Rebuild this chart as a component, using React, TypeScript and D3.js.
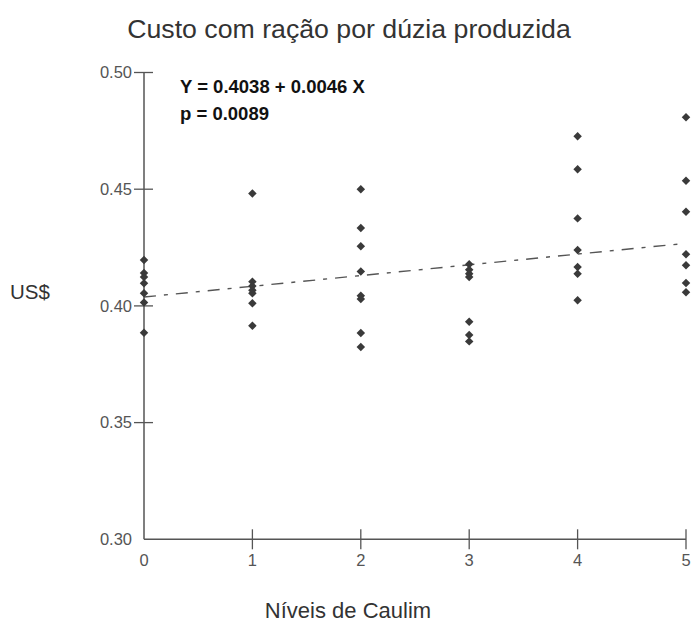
import React from "react";
import * as d3 from "d3";

const title = "Custo com ração por dúzia produzida";
const xLabel = "Níveis de Caulim";
const yLabel = "US$";
const xTicks = [0, 1, 2, 3, 4, 5];
const yTicks = [0.3, 0.35, 0.4, 0.45, 0.5];
const equation = "Y = 0.4038 + 0.0046 X";
const pText = "p = 0.0089";
const intercept = 0.4038;
const slope = 0.0046;

const level0 = [0.4197, 0.4141, 0.4124, 0.4097, 0.4054, 0.4015, 0.3885];
const level1 = [0.4482, 0.4104, 0.4085, 0.4067, 0.4054, 0.4011, 0.3915];
const level2 = [0.45, 0.4334, 0.4256, 0.4147, 0.4043, 0.403, 0.3884, 0.3824];
const level3 = [0.4178, 0.4155, 0.4138, 0.4124, 0.3932, 0.3875, 0.3848];
const level4 = [0.4727, 0.4585, 0.4375, 0.4239, 0.4167, 0.4138, 0.4024];
const level5 = [0.4808, 0.4536, 0.4403, 0.4221, 0.4174, 0.4098, 0.4059];
const levels = [level0, level1, level2, level3, level4, level5];

export default function App() {
  const W = 692;
  const H = 623;
  const x = d3.scaleLinear().domain([0, 5]).range([144, 686]);
  const y = d3.scaleLinear().domain([0.3, 0.5]).range([539.3, 72.5]);
  const sym = d3.symbol().type(d3.symbolDiamond2).size(46);
  const axisColor = "#555";
  const font = "'Liberation Sans', Arial, sans-serif";
  const lineX0 = 0;
  const lineX1 = 4.93;
  const points: { lv: number; v: number }[] = [];
  levels.forEach((arr, i) => arr.forEach((v) => points.push({ lv: xTicks[i], v })));

  return (
    <svg
      width={W}
      height={H}
      style={{ position: "absolute", left: 0, top: 0, background: "#fff" }}
      fontFamily={font}
    >
      <rect width={W} height={H} fill="#fff" />
      <text x={349} y={38} textAnchor="middle" fontSize={26.7} fill="#333">
        {title}
      </text>
      <line x1={x(0)} x2={x(0)} y1={y(0.3)} y2={y(0.5)} stroke={axisColor} strokeWidth={1.5} />
      <line x1={x(0)} x2={x(5)} y1={y(0.3)} y2={y(0.3)} stroke={axisColor} strokeWidth={1.5} />
      {yTicks.map((t) => (
        <g key={"y" + t}>
          {t !== 0.3 && (
            <line x1={x(0) - 10} x2={x(0) + 9} y1={y(t)} y2={y(t)} stroke={axisColor} strokeWidth={1.3} />
          )}
          <text x={x(0) - 12} y={y(t)} dy="0.35em" textAnchor="end" fontSize={16.5} fill="#555">
            {d3.format(".2f")(t)}
          </text>
        </g>
      ))}
      {xTicks.map((t) => (
        <g key={"x" + t}>
          {t !== 0 && (
            <line x1={x(t)} x2={x(t)} y1={y(0.3) - 10} y2={y(0.3) + 10} stroke={axisColor} strokeWidth={1.3} />
          )}
          <text x={x(t)} y={y(0.3) + 27} textAnchor="middle" fontSize={16.5} fill="#555">
            {t}
          </text>
        </g>
      ))}
      <line
        x1={x(lineX0)}
        x2={x(lineX1)}
        y1={y(intercept + slope * lineX0)}
        y2={y(intercept + slope * lineX1)}
        stroke="#555"
        strokeWidth={1.4}
        strokeDasharray="12,8,4,8"
      />
      {points.map((p, i) => (
        <path key={i} d={sym() as string} transform={`translate(${x(p.lv)},${y(p.v)})`} fill="#3a3a3a" />
      ))}
      <text x={180} y={93} fontSize={18.5} fontWeight="bold" fill="#111">
        {equation}
      </text>
      <text x={180} y={120} fontSize={18.5} fontWeight="bold" fill="#111">
        {pText}
      </text>
      <text x={10} y={299} fontSize={20.5} fill="#333">
        {yLabel}
      </text>
      <text x={348} y={618} textAnchor="middle" fontSize={22} fill="#333">
        {xLabel}
      </text>
    </svg>
  );
}
